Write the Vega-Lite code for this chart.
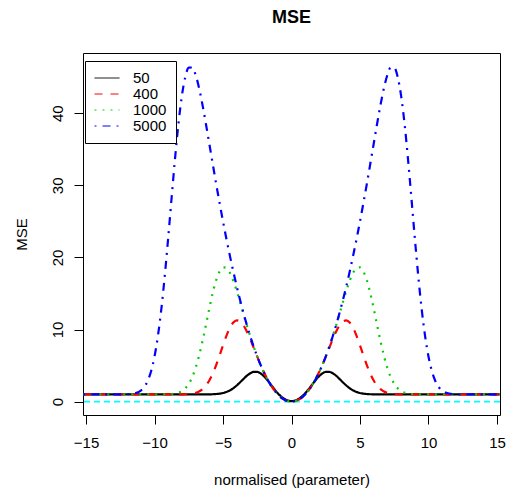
{
  "$schema": "https://vega.github.io/schema/vega-lite/v6.json",
  "width": 417,
  "height": 362,
  "autosize": "none",
  "padding": {"left": 83, "top": 53, "right": 7, "bottom": 77},
  "title": {"text": "MSE", "fontSize": 18, "fontWeight": "bold", "font": "Liberation Sans", "anchor": "middle", "frame": "group", "baseline": "alphabetic", "offset": 12, "color": "black"},
  "config": {
    "font": "Liberation Sans",
    "view": {"stroke": "black", "strokeWidth": 1},
    "axis": {"grid": false, "domain": false, "tickColor": "black", "tickSize": 9, "labelColor": "black", "labelFontSize": 15, "titleColor": "black", "titleFontSize": 15, "titleFontWeight": "normal", "labelFlush": false, "labelOverlap": false, "labelBound": false}
  },
  "data": {"values": [
    {"x": -15.2, "50": 1, "400": 1, "1000": 1, "5000": 1},
    {"x": -13.5, "50": 1, "400": 1, "1000": 1, "5000": 1},
    {"x": -12.5, "50": 1, "400": 1, "1000": 1, "5000": 1},
    {"x": -12, "50": 1, "400": 1, "1000": 1, "5000": 1.02},
    {"x": -11.75, "50": 1, "400": 1, "1000": 1, "5000": 1.05},
    {"x": -11.5, "50": 1, "400": 1, "1000": 1, "5000": 1.12},
    {"x": -11.25, "50": 1, "400": 1, "1000": 1, "5000": 1.26},
    {"x": -11, "50": 1, "400": 1, "1000": 1, "5000": 1.53},
    {"x": -10.75, "50": 1, "400": 1, "1000": 1, "5000": 2.02},
    {"x": -10.5, "50": 1, "400": 1, "1000": 1, "5000": 2.86},
    {"x": -10.25, "50": 1, "400": 1, "1000": 1, "5000": 4.22},
    {"x": -10, "50": 1, "400": 1, "1000": 1, "5000": 6.25},
    {"x": -9.75, "50": 1, "400": 1, "1000": 1, "5000": 9.11},
    {"x": -9.5, "50": 1, "400": 1, "1000": 1, "5000": 12.87},
    {"x": -9.25, "50": 1, "400": 1, "1000": 1.01, "5000": 17.48},
    {"x": -9, "50": 1, "400": 1, "1000": 1.02, "5000": 22.74},
    {"x": -8.75, "50": 1, "400": 1, "1000": 1.05, "5000": 28.31},
    {"x": -8.5, "50": 1, "400": 1, "1000": 1.12, "5000": 33.75},
    {"x": -8.25, "50": 1, "400": 1, "1000": 1.24, "5000": 38.59},
    {"x": -8, "50": 1, "400": 1.01, "1000": 1.46, "5000": 42.44},
    {"x": -7.75, "50": 1, "400": 1.02, "1000": 1.85, "5000": 45.05},
    {"x": -7.5, "50": 1, "400": 1.05, "1000": 2.46, "5000": 46.32},
    {"x": -7.25, "50": 1, "400": 1.11, "1000": 3.38, "5000": 46.35},
    {"x": -7, "50": 1, "400": 1.22, "1000": 4.67, "5000": 45.33},
    {"x": -6.75, "50": 1, "400": 1.41, "1000": 6.34, "5000": 43.52},
    {"x": -6.5, "50": 1, "400": 1.73, "1000": 8.36, "5000": 41.19},
    {"x": -6.25, "50": 1, "400": 2.22, "1000": 10.6, "5000": 38.55},
    {"x": -6, "50": 1.01, "400": 2.93, "1000": 12.91, "5000": 35.77},
    {"x": -5.75, "50": 1.02, "400": 3.88, "1000": 15.06, "5000": 32.97},
    {"x": -5.5, "50": 1.05, "400": 5.06, "1000": 16.83, "5000": 30.21},
    {"x": -5.25, "50": 1.1, "400": 6.4, "1000": 18.05, "5000": 27.55},
    {"x": -5, "50": 1.19, "400": 7.8, "1000": 18.62, "5000": 25},
    {"x": -4.75, "50": 1.34, "400": 9.12, "1000": 18.54, "5000": 22.56},
    {"x": -4.5, "50": 1.55, "400": 10.22, "1000": 17.88, "5000": 20.25},
    {"x": -4.25, "50": 1.85, "400": 10.96, "1000": 16.77, "5000": 18.06},
    {"x": -4, "50": 2.23, "400": 11.27, "1000": 15.36, "5000": 16},
    {"x": -3.75, "50": 2.68, "400": 11.12, "1000": 13.78, "5000": 14.06},
    {"x": -3.5, "50": 3.15, "400": 10.57, "1000": 12.14, "5000": 12.25},
    {"x": -3.25, "50": 3.6, "400": 9.69, "1000": 10.53, "5000": 10.56},
    {"x": -3, "50": 3.94, "400": 8.61, "1000": 9, "5000": 9},
    {"x": -2.75, "50": 4.13, "400": 7.43, "1000": 7.57, "5000": 7.56},
    {"x": -2.5, "50": 4.12, "400": 6.23, "1000": 6.25, "5000": 6.25},
    {"x": -2.25, "50": 3.9, "400": 5.08, "1000": 5.06, "5000": 5.06},
    {"x": -2, "50": 3.49, "400": 4.03, "1000": 4, "5000": 4},
    {"x": -1.75, "50": 2.95, "400": 3.08, "1000": 3.06, "5000": 3.06},
    {"x": -1.5, "50": 2.34, "400": 2.26, "1000": 2.25, "5000": 2.25},
    {"x": -1.25, "50": 1.72, "400": 1.57, "1000": 1.56, "5000": 1.56},
    {"x": -1, "50": 1.16, "400": 1, "1000": 1, "5000": 1},
    {"x": -0.75, "50": 0.69, "400": 0.56, "1000": 0.56, "5000": 0.56},
    {"x": -0.5, "50": 0.35, "400": 0.25, "1000": 0.25, "5000": 0.25},
    {"x": -0.25, "50": 0.13, "400": 0.06, "1000": 0.06, "5000": 0.06},
    {"x": 0, "50": 0.06, "400": 0, "1000": 0, "5000": 0},
    {"x": 0.25, "50": 0.13, "400": 0.06, "1000": 0.06, "5000": 0.06},
    {"x": 0.5, "50": 0.35, "400": 0.25, "1000": 0.25, "5000": 0.25},
    {"x": 0.75, "50": 0.69, "400": 0.56, "1000": 0.56, "5000": 0.56},
    {"x": 1, "50": 1.16, "400": 1, "1000": 1, "5000": 1},
    {"x": 1.25, "50": 1.72, "400": 1.57, "1000": 1.56, "5000": 1.56},
    {"x": 1.5, "50": 2.34, "400": 2.26, "1000": 2.25, "5000": 2.25},
    {"x": 1.75, "50": 2.95, "400": 3.08, "1000": 3.06, "5000": 3.06},
    {"x": 2, "50": 3.49, "400": 4.03, "1000": 4, "5000": 4},
    {"x": 2.25, "50": 3.9, "400": 5.08, "1000": 5.06, "5000": 5.06},
    {"x": 2.5, "50": 4.12, "400": 6.23, "1000": 6.25, "5000": 6.25},
    {"x": 2.75, "50": 4.13, "400": 7.43, "1000": 7.57, "5000": 7.56},
    {"x": 3, "50": 3.94, "400": 8.61, "1000": 9, "5000": 9},
    {"x": 3.25, "50": 3.6, "400": 9.69, "1000": 10.53, "5000": 10.56},
    {"x": 3.5, "50": 3.15, "400": 10.57, "1000": 12.14, "5000": 12.25},
    {"x": 3.75, "50": 2.68, "400": 11.12, "1000": 13.78, "5000": 14.06},
    {"x": 4, "50": 2.23, "400": 11.27, "1000": 15.36, "5000": 16},
    {"x": 4.25, "50": 1.85, "400": 10.96, "1000": 16.77, "5000": 18.06},
    {"x": 4.5, "50": 1.55, "400": 10.22, "1000": 17.88, "5000": 20.25},
    {"x": 4.75, "50": 1.34, "400": 9.12, "1000": 18.54, "5000": 22.56},
    {"x": 5, "50": 1.19, "400": 7.8, "1000": 18.62, "5000": 25},
    {"x": 5.25, "50": 1.1, "400": 6.4, "1000": 18.05, "5000": 27.55},
    {"x": 5.5, "50": 1.05, "400": 5.06, "1000": 16.83, "5000": 30.21},
    {"x": 5.75, "50": 1.02, "400": 3.88, "1000": 15.06, "5000": 32.97},
    {"x": 6, "50": 1.01, "400": 2.93, "1000": 12.91, "5000": 35.77},
    {"x": 6.25, "50": 1, "400": 2.22, "1000": 10.6, "5000": 38.55},
    {"x": 6.5, "50": 1, "400": 1.73, "1000": 8.36, "5000": 41.19},
    {"x": 6.75, "50": 1, "400": 1.41, "1000": 6.34, "5000": 43.52},
    {"x": 7, "50": 1, "400": 1.22, "1000": 4.67, "5000": 45.33},
    {"x": 7.25, "50": 1, "400": 1.11, "1000": 3.38, "5000": 46.35},
    {"x": 7.5, "50": 1, "400": 1.05, "1000": 2.46, "5000": 46.32},
    {"x": 7.75, "50": 1, "400": 1.02, "1000": 1.85, "5000": 45.05},
    {"x": 8, "50": 1, "400": 1.01, "1000": 1.46, "5000": 42.44},
    {"x": 8.25, "50": 1, "400": 1, "1000": 1.24, "5000": 38.59},
    {"x": 8.5, "50": 1, "400": 1, "1000": 1.12, "5000": 33.75},
    {"x": 8.75, "50": 1, "400": 1, "1000": 1.05, "5000": 28.31},
    {"x": 9, "50": 1, "400": 1, "1000": 1.02, "5000": 22.74},
    {"x": 9.25, "50": 1, "400": 1, "1000": 1.01, "5000": 17.48},
    {"x": 9.5, "50": 1, "400": 1, "1000": 1, "5000": 12.87},
    {"x": 9.75, "50": 1, "400": 1, "1000": 1, "5000": 9.11},
    {"x": 10, "50": 1, "400": 1, "1000": 1, "5000": 6.25},
    {"x": 10.25, "50": 1, "400": 1, "1000": 1, "5000": 4.22},
    {"x": 10.5, "50": 1, "400": 1, "1000": 1, "5000": 2.86},
    {"x": 10.75, "50": 1, "400": 1, "1000": 1, "5000": 2.02},
    {"x": 11, "50": 1, "400": 1, "1000": 1, "5000": 1.53},
    {"x": 11.25, "50": 1, "400": 1, "1000": 1, "5000": 1.26},
    {"x": 11.5, "50": 1, "400": 1, "1000": 1, "5000": 1.12},
    {"x": 11.75, "50": 1, "400": 1, "1000": 1, "5000": 1.05},
    {"x": 12, "50": 1, "400": 1, "1000": 1, "5000": 1.02},
    {"x": 12.5, "50": 1, "400": 1, "1000": 1, "5000": 1},
    {"x": 13.5, "50": 1, "400": 1, "1000": 1, "5000": 1},
    {"x": 15.2, "50": 1, "400": 1, "1000": 1, "5000": 1}
  ]},
  "layer": [
    {
      "data": {"values": [{"level": 0}]},
      "mark": {"type": "rule", "color": "#00FFFF", "strokeDash": [6, 4], "strokeWidth": 1.8},
      "encoding": {"y": {"field": "level", "type": "quantitative"}}
    },
    {
      "transform": [{"fold": ["50", "400", "1000", "5000"], "as": ["n", "mse"]}],
      "mark": {"type": "line", "strokeWidth": 2.2, "interpolate": "monotone", "clip": true},
      "encoding": {
        "x": {"field": "x", "type": "quantitative",
          "scale": {"domain": [-15.22, 15.22], "nice": false, "zero": false},
          "axis": {"values": [-15, -10, -5, 0, 5, 10, 15], "title": "normalised (parameter)", "labelPadding": 11, "titlePadding": 22}},
        "y": {"field": "mse", "type": "quantitative",
          "scale": {"domain": [-1.86, 48.36], "nice": false, "zero": false},
          "axis": {"values": [0, 10, 20, 30, 40], "title": "MSE", "labelAngle": 270, "labelAlign": "center", "labelBaseline": "alphabetic", "labelPadding": 11.5, "titlePadding": 24, "titleBaseline": "alphabetic"}},
        "color": {"field": "n", "type": "nominal",
          "scale": {"domain": ["50", "400", "1000", "5000"], "range": ["#000000", "#FF0000", "#00CD00", "#0000FF"]},
          "legend": {"title": null, "orient": "none", "legendX": 2, "legendY": 8, "strokeColor": "black", "fillColor": "white", "padding": 9, "symbolType": "stroke", "symbolSize": 625, "symbolStrokeWidth": 1, "labelFontSize": 15, "labelColor": "black", "clipHeight": 16, "labelOffset": 13, "rowPadding": 0, "cornerRadius": 0}},
        "strokeDash": {"field": "n", "type": "nominal",
          "scale": {"domain": ["50", "400", "1000", "5000"], "range": [[1, 0], [8, 8], [2, 6], [2, 6, 8, 6]]},
          "legend": {"title": null, "orient": "none", "legendX": 2, "legendY": 8, "strokeColor": "black", "fillColor": "white", "padding": 9, "symbolType": "stroke", "symbolSize": 625, "symbolStrokeWidth": 1, "labelFontSize": 15, "labelColor": "black", "clipHeight": 16, "labelOffset": 13, "rowPadding": 0, "cornerRadius": 0}}
      }
    }
  ]
}
